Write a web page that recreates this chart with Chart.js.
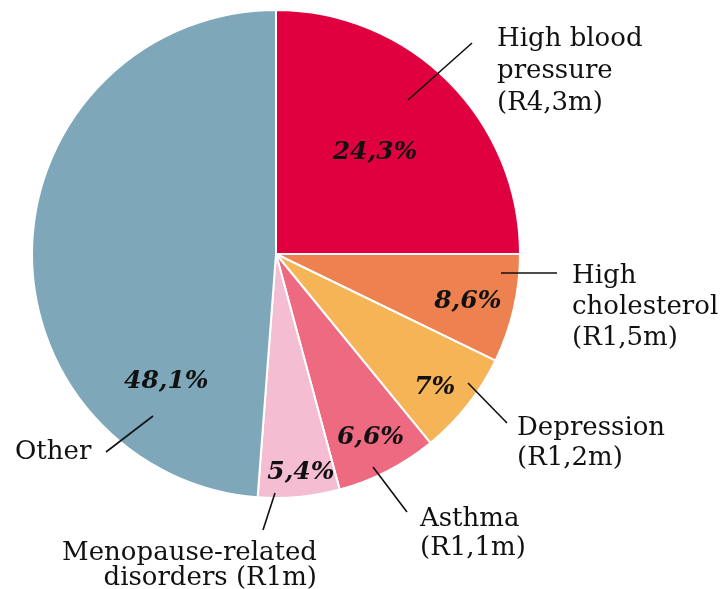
<!DOCTYPE html>
<html>
<head>
<meta charset="utf-8">
<script src="https://cdn.jsdelivr.net/npm/chart.js@4"></script>
<style>
  html, body { margin: 0; padding: 0; background: #fff; }
  #wrap { width: 726px; height: 589px; position: relative; }
</style>
</head>
<body>
<div id="wrap"><canvas id="pie"></canvas></div>
<script>
const categories = [
  'High blood pressure',
  'High cholesterol',
  'Depression',
  'Asthma',
  'Menopause-related disorders',
  'Other'
]
// slice sizes as drawn in the picture (the printed labels differ slightly)
const shares = [25, 7.2, 6.9, 6.7, 5.4, 48.8]
const shareLabels = ['24,3%', '8,6%', '7%', '6,6%', '5,4%', '48,1%']
const outerLabels = [
  ['High blood', 'pressure', '(R4,3m)'],
  ['High', 'cholesterol', '(R1,5m)'],
  ['Depression', '(R1,2m)'],
  ['Asthma', '(R1,1m)'],
  ['Menopause-related', 'disorders (R1m)'],
  ['Other']
]
const colours = ['#e1003f', '#ee8150', '#f5b456', '#ee6a81', '#f5bdd2', '#7ea8ba']

// where the % sits: fraction of radius + angle nudge (deg) from slice middle
const pctPlace = [
  { f: 0.58, d: -0.6 },
  { f: 0.81, d: 1 },
  { f: 0.85, d: 1.7 },
  { f: 0.845, d: -0.1 },
  { f: 0.9, d: -1.1 },
  { f: 0.69, d: -51.5 }
]

// callouts, offsets from pie centre: leader line + text anchor
const callouts = [
  { line: [132, -154, 196, -211], x: 221, y: -208, align: 'left', lh: 32 },
  { line: [225, 19, 281, 19], x: 296, y: 29, align: 'left', lh: 31 },
  { line: [192, 129, 231, 169], x: 241, y: 181, align: 'left', lh: 30 },
  { line: [97, 213, 131, 258], x: 144, y: 272, align: 'left', lh: 29 },
  { line: [-1, 239, -13, 276], x: 41, y: 306, align: 'right', lh: 25 },
  { line: [-123, 162, -170, 198], x: -261, y: 205, align: 'left', lh: 30 }
]

const labelPlugin = {
  id: 'pieLabels',
  afterDraw(chart) {
    const ctx = chart.ctx
    const arcs = chart.getDatasetMeta(0).data
    ctx.save()
    arcs.forEach((arc, i) => {
      const { x, y, startAngle, endAngle, outerRadius } = arc.getProps(['x', 'y', 'startAngle', 'endAngle', 'outerRadius'], true)
      const mid = (startAngle + endAngle) / 2 + pctPlace[i].d * Math.PI / 180
      const r = outerRadius * pctPlace[i].f
      ctx.fillStyle = '#111'
      ctx.font = 'bold italic 25px "DejaVu Serif"'
      ctx.textAlign = 'center'
      ctx.textBaseline = 'middle'
      ctx.fillText(shareLabels[i], x + Math.cos(mid) * r, y + Math.sin(mid) * r)

      // leader + category text
      const c = callouts[i]
      ctx.strokeStyle = '#111'
      ctx.lineWidth = 1.6
      ctx.beginPath()
      ctx.moveTo(x + c.line[0], y + c.line[1])
      ctx.lineTo(x + c.line[2], y + c.line[3])
      ctx.stroke()

      ctx.font = '26px "DejaVu Serif"'
      ctx.textAlign = c.align
      ctx.textBaseline = 'alphabetic'
      outerLabels[i].forEach((ln, k) => {
        ctx.fillText(ln, x + c.x, y + c.y + k * c.lh)
      })
    })
    ctx.restore()
  }
}

new Chart(document.getElementById('pie'), {
  type: 'pie',
  data: {
    labels: categories,
    datasets: [{
      data: shares,
      backgroundColor: colours,
      borderColor: '#fff',
      borderWidth: 2
    }]
  },
  options: {
    responsive: true,
    maintainAspectRatio: false,
    animation: false,
    layout: { padding: { left: 31, right: 205, top: 9, bottom: 90 } },
    plugins: {
      legend: { display: false },
      tooltip: { enabled: false }
    }
  },
  plugins: [labelPlugin]
})
</script>
</body>
</html>
